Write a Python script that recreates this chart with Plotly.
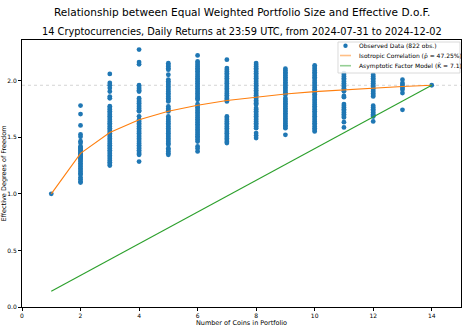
import plotly.graph_objects as go

# observed effective D.o.F. per portfolio size
obs = {
    1: [1.0],
    2: [1.78, 1.705, 1.605, 1.525, 1.505, 1.465, 1.45, 1.42, 1.41, 1.40, 1.39, 1.38, 1.37, 1.36,
        1.35, 1.34, 1.33, 1.32, 1.31, 1.30, 1.285, 1.27, 1.255, 1.24, 1.225, 1.21, 1.195, 1.18,
        1.17, 1.145, 1.13, 1.11, 1.10],
    3: [2.06, 1.98, 1.96, 1.935, 1.905, 1.86, 1.845, 1.775, 1.76, 1.745, 1.73, 1.715, 1.70,
        1.685, 1.67, 1.655, 1.64, 1.625, 1.61, 1.595, 1.58, 1.565, 1.55, 1.535, 1.52, 1.505,
        1.49, 1.475, 1.46, 1.445, 1.43, 1.415, 1.40, 1.385, 1.37, 1.355, 1.34, 1.325, 1.31,
        1.295, 1.28, 1.265, 1.25],
    4: [2.275, 2.165, 2.145, 1.96, 1.945, 1.93, 1.915, 1.905, 1.845, 1.83, 1.815, 1.80, 1.785,
        1.77, 1.755, 1.74, 1.73, 1.685, 1.655, 1.64, 1.625, 1.61, 1.595, 1.58, 1.565, 1.55,
        1.535, 1.52, 1.505, 1.49, 1.475, 1.46, 1.445, 1.43, 1.415, 1.40, 1.385, 1.37, 1.355,
        1.345, 1.285],
    5: [2.155, 2.14, 2.125, 2.11, 2.098, 2.053, 2.01, 1.995, 1.98, 1.965, 1.95, 1.935, 1.92,
        1.905, 1.89, 1.875, 1.86, 1.845, 1.83, 1.817, 1.773, 1.755, 1.74, 1.729, 1.684, 1.67,
        1.655, 1.64, 1.625, 1.61, 1.595, 1.58, 1.565, 1.55, 1.535, 1.52, 1.505, 1.49, 1.475,
        1.46, 1.445, 1.434, 1.404, 1.39, 1.375, 1.36, 1.345],
    6: [2.224, 2.171, 2.156, 2.141, 2.126, 2.111, 2.096, 2.083, 2.068, 2.053, 2.038, 2.023,
        2.008, 1.993, 1.978, 1.963, 1.948, 1.933, 1.918, 1.903, 1.888, 1.873, 1.858, 1.845,
        1.832, 1.794, 1.78, 1.765, 1.75, 1.735, 1.72, 1.705, 1.69, 1.675, 1.66, 1.645, 1.63,
        1.615, 1.60, 1.585, 1.57, 1.555, 1.54, 1.525, 1.51, 1.495, 1.48, 1.463, 1.419, 1.40,
        1.375],
    7: [2.186, 2.112, 2.097, 2.082, 2.067, 2.052, 2.037, 2.022, 2.007, 1.992, 1.977, 1.962,
        1.947, 1.932, 1.917, 1.902, 1.887, 1.872, 1.857, 1.842, 1.83, 1.817, 1.684, 1.67, 1.655,
        1.64, 1.625, 1.61, 1.595, 1.58, 1.565, 1.55, 1.535, 1.52, 1.505, 1.49, 1.475, 1.46,
        1.449],
    8: [2.156, 2.141, 2.126, 2.111, 2.096, 2.081, 2.066, 2.051, 2.036, 2.021, 2.006, 1.991,
        1.976, 1.961, 1.946, 1.931, 1.916, 1.901, 1.886, 1.871, 1.856, 1.841, 1.826, 1.811,
        1.80, 1.788, 1.758, 1.745, 1.73, 1.715, 1.70, 1.685, 1.67, 1.655, 1.64, 1.625, 1.61,
        1.595, 1.581, 1.537, 1.515, 1.493],
    9: [2.106, 2.091, 2.076, 2.061, 2.046, 2.031, 2.016, 2.001, 1.986, 1.971, 1.956, 1.941,
        1.926, 1.911, 1.896, 1.885, 1.876, 1.847, 1.832, 1.817, 1.802, 1.787, 1.772, 1.757,
        1.742, 1.727, 1.712, 1.697, 1.682, 1.667, 1.652, 1.637, 1.622, 1.607, 1.594, 1.581,
        1.522],
    10: [2.136, 2.121, 2.106, 2.091, 2.076, 2.061, 2.046, 2.031, 2.018, 2.0, 1.985, 1.97,
         1.955, 1.94, 1.925, 1.91, 1.895, 1.88, 1.865, 1.85, 1.835, 1.82, 1.805, 1.79, 1.775,
         1.76, 1.745, 1.73, 1.715, 1.70, 1.685, 1.67, 1.655, 1.64, 1.625, 1.61, 1.595, 1.58,
         1.565, 1.552],
    11: [2.068, 2.053, 2.038, 2.023, 2.008, 1.993, 1.978, 1.963, 1.948, 1.933, 1.918, 1.906,
         1.865, 1.855, 1.794, 1.779, 1.764, 1.749, 1.734, 1.719, 1.704, 1.689, 1.676, 1.634,
         1.587],
    12: [2.053, 2.038, 2.023, 2.008, 1.993, 1.978, 1.963, 1.948, 1.933, 1.918, 1.903, 1.888,
         1.873, 1.861, 1.779, 1.764, 1.749, 1.734, 1.719, 1.704, 1.692, 1.684, 1.64],
    13: [2.009, 1.979, 1.965, 1.95, 1.935, 1.92, 1.891, 1.743],
    14: [1.96],
}

coins = [1, 2, 3, 4, 5, 6, 7, 8, 9, 10, 11, 12, 13, 14]
isotropic = [1.0, 1.358, 1.542, 1.655, 1.730, 1.784, 1.825, 1.857, 1.883, 1.904,
             1.921, 1.936, 1.949, 1.960]
factor_model = [0.14, 0.28, 0.42, 0.56, 0.70, 0.84, 0.98, 1.12, 1.26, 1.40,
                1.54, 1.68, 1.82, 1.96]
full_dof = 1.96

legend_labels = ['Observed Data (822 obs.)',
                 'Isotropic Correlation (ρ̂ = 47.25%)',
                 'Asymptotic Factor Model (K̂ = 7.1)']

BLUE, ORANGE, GREEN = '#1f77b4', '#ff7f0e', '#2ca02c'

xs, ys = [], []
for n, vals in obs.items():
    xs += [n] * len(vals)
    ys += vals

fig = go.Figure()
fig.add_trace(go.Scatter(
    x=xs, y=ys, mode='markers', name=legend_labels[0],
    marker=dict(color=BLUE, size=4.8, line=dict(width=0))
))
fig.add_trace(go.Scatter(
    x=coins, y=isotropic, mode='lines', name=legend_labels[1],
    line=dict(color=ORANGE, width=1.1)
))
fig.add_trace(go.Scatter(
    x=[coins[0], coins[-1]], y=[factor_model[0], factor_model[-1]], mode='lines',
    name=legend_labels[2], line=dict(color=GREEN, width=1.1)
))

fig.add_hline(y=full_dof, line=dict(color='#d4d4d4', width=1, dash='dot'), layer='below')

# matplotlib-style legend box drawn by hand (plotly's legend rows are too tall here)
fig.add_shape(type='rect', xref='paper', yref='paper', x0=0.7198, x1=0.9977, y0=0.8764, y1=0.9925,
              line=dict(color='#d0d0d0', width=0.8), fillcolor='rgba(255,255,255,0.85)')
row_y = [0.9787, 0.9419, 0.9037]
fig.add_shape(type='circle', xref='paper', yref='paper',
              x0=0.7369 - 0.005, x1=0.7369 + 0.005, y0=row_y[0] - 0.0082, y1=row_y[0] + 0.0082,
              line=dict(width=0), fillcolor=BLUE)
for yy, col in zip(row_y[1:], ['rgba(255,127,14,0.5)', 'rgba(44,160,44,0.5)']):
    fig.add_shape(type='line', xref='paper', yref='paper', x0=0.7244, x1=0.7494, y0=yy, y1=yy,
                  line=dict(color=col, width=1.6))
annotations = [
    dict(text='Relationship between Equal Weighted Portfolio Size and Effective D.o.F.',
         xref='paper', yref='paper', x=0.5, y=1.105, xanchor='center', yanchor='middle',
         showarrow=False, font=dict(size=10.55, color='black')),
    dict(text='14 Cryptocurrencies, Daily Returns at 23:59 UTC, from 2024-07-31 to 2024-12-02',
         xref='paper', yref='paper', x=0.5, y=1.031, xanchor='center', yanchor='middle',
         showarrow=False, font=dict(size=9.8, color='black')),
]
for yy, lab in zip(row_y, legend_labels):
    annotations.append(dict(text=lab, xref='paper', yref='paper', x=0.7631, y=yy,
                            xanchor='left', yanchor='middle', showarrow=False,
                            font=dict(size=6, color='black')))

axis_style = dict(
    showline=True, linecolor='black', linewidth=1, mirror=True,
    ticks='outside', ticklen=3, tickcolor='black', tickwidth=0.8,
    showgrid=False, zeroline=False, automargin=False,
    tickfont=dict(size=6, color='black'),
)

fig.update_layout(
    width=465, height=327,
    template='plotly_white',
    font=dict(family='DejaVu Sans', color='black'),
    showlegend=False,
    annotations=annotations,
    xaxis=dict(range=[0, 15], tickvals=[0, 2, 4, 6, 8, 10, 12, 14],
               title=dict(text='Number of Coins in Portfolio',
                          font=dict(size=6.5, color='black'), standoff=2),
               **axis_style),
    yaxis=dict(range=[0, 2.36], tickvals=[0, 0.5, 1.0, 1.5, 2.0], tickformat='.1f',
               title=dict(text='Effective Degrees of Freedom',
                          font=dict(size=6.5, color='black'), standoff=2),
               **axis_style),
    margin=dict(l=22, r=4, t=40, b=20),
    plot_bgcolor='white', paper_bgcolor='white',
)

# drop the browser's default body margin so the figure sits at the page corner
fig.write_html("out.html", config={'displayModeBar': False},
               post_script="document.body.style.margin='0';")
